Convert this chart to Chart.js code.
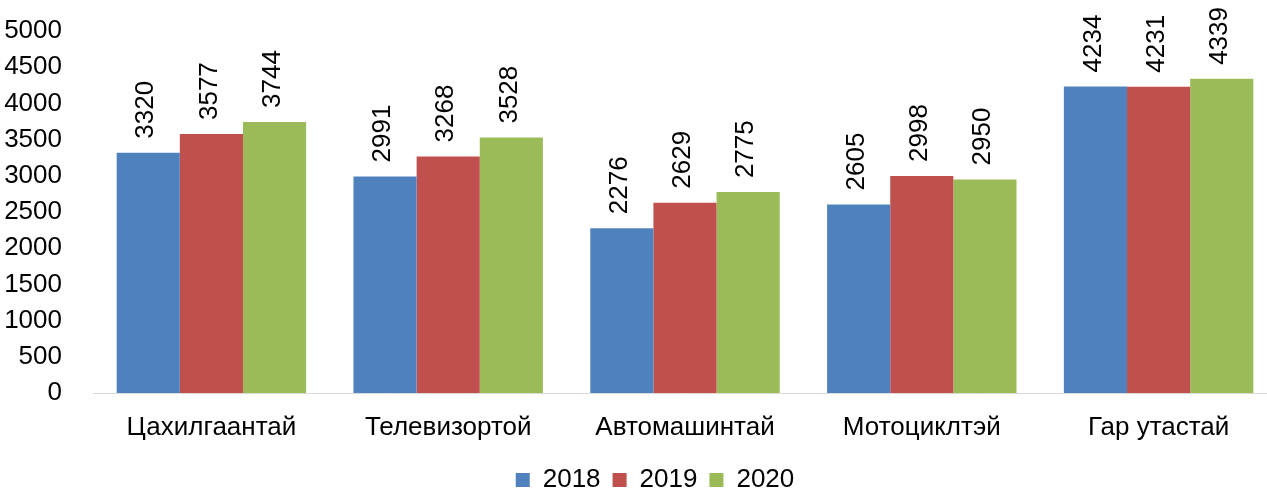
<!DOCTYPE html>
<html>
<head>
<meta charset="utf-8">
<script src="https://cdn.jsdelivr.net/npm/chart.js@4/dist/chart.umd.min.js"></script>
<style>
  html, body { margin: 0; padding: 0; background: #fff; overflow: hidden; }
  #wrap { width: 1310px; height: 489px; }
</style>
</head>
<body>
<div id="wrap"><canvas id="c" width="1310" height="489"></canvas></div>
<script>
const categories = ["Цахилгаантай", "Телевизортой", "Автомашинтай", "Мотоциклтэй", "Гар утастай"];
const seriesNames = ["2018", "2019", "2020"];
const values2018 = [3320, 2991, 2276, 2605, 4234];
const values2019 = [3577, 3268, 2629, 2998, 4231];
const values2020 = [3744, 3528, 2775, 2950, 4339];
const yTicks = [0, 500, 1000, 1500, 2000, 2500, 3000, 3500, 4000, 4500, 5000];

const colors = ["#4F81BD", "#C0504D", "#9BBB59"];
const FONT = "'Liberation Sans', Arial, sans-serif";
const FS = 26;

const valueLabels = {
  id: "valueLabels",
  afterDatasetsDraw(chart) {
    const ctx = chart.ctx;
    ctx.save();
    ctx.font = FS + "px " + FONT;
    ctx.fillStyle = "#000";
    ctx.textAlign = "left";
    ctx.textBaseline = "middle";
    chart.data.datasets.forEach((ds, i) => {
      const meta = chart.getDatasetMeta(i);
      meta.data.forEach((bar, j) => {
        ctx.save();
        ctx.translate(bar.x - 2, bar.y - 14);
        ctx.rotate(-Math.PI / 2);
        ctx.fillText(String(ds.data[j]), 0, 0);
        ctx.restore();
      });
    });
    ctx.restore();
  }
};

new Chart(document.getElementById("c"), {
  type: "bar",
  data: {
    labels: categories,
    datasets: [
      { label: seriesNames[0], data: values2018, backgroundColor: colors[0] },
      { label: seriesNames[1], data: values2019, backgroundColor: colors[1] },
      { label: seriesNames[2], data: values2020, backgroundColor: colors[2] }
    ]
  },
  options: {
    responsive: false,
    animation: false,
    layout: { padding: { top: 31, right: 0, left: 0, bottom: -14 } },
    datasets: { bar: { categoryPercentage: 0.8, barPercentage: 1.0 } },
    plugins: {
      legend: {
        position: "bottom",
        labels: { boxWidth: 14, boxHeight: 14, font: { size: FS, family: FONT }, color: "#000", padding: 12 }
      },
      tooltip: { enabled: false }
    },
    scales: {
      x: {
        afterFit(scale) { scale.height = 62; },
        grid: { display: false },
        border: { display: true, color: "#D9D9D9", width: 1 },
        ticks: { font: { size: FS, family: FONT }, color: "#000", padding: 11 }
      },
      y: {
        min: 0, max: 5000,
        afterBuildTicks(scale) { scale.ticks = yTicks.map(v => ({ value: v })); },
        afterFit(scale) { scale.width = 93; scale.paddingTop = 0; scale.paddingBottom = 0; },
        grid: { display: false },
        border: { display: false },
        ticks: { font: { size: FS, family: FONT }, color: "#000", padding: 23, callback: v => String(v) }
      },
      yRight: {
        position: "right",
        min: 0, max: 5000,
        afterFit(scale) { scale.width = 33; scale.paddingTop = 0; scale.paddingBottom = 0; },
        grid: { display: false },
        border: { display: false },
        ticks: { display: false }
      }
    }
  },
  plugins: [valueLabels]
});
</script>
</body>
</html>
